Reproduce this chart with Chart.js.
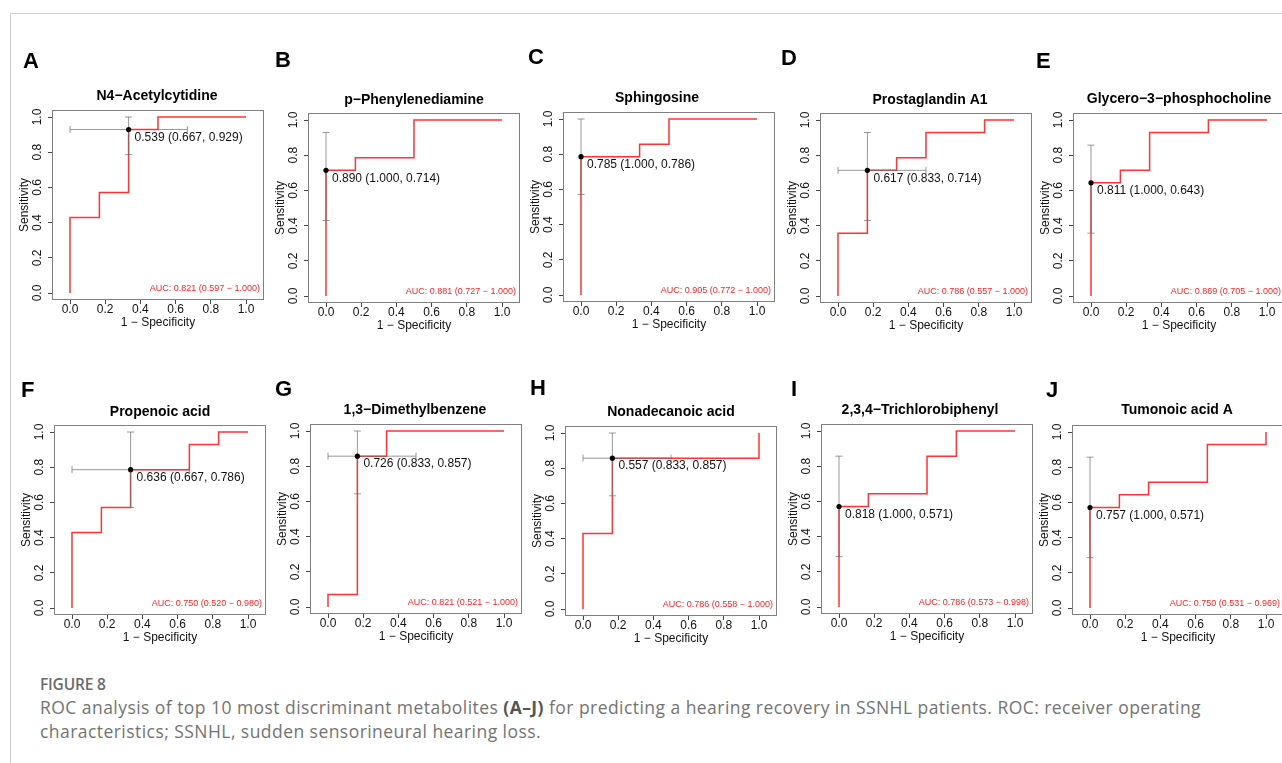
<!DOCTYPE html>
<html><head><meta charset="utf-8">
<script src="https://cdn.jsdelivr.net/npm/chart.js@4.4.1/dist/chart.umd.min.js"></script>
<style>
html,body{margin:0;padding:0;background:#fff;}
body{width:1282px;height:763px;overflow:hidden;position:relative;}
#frame{position:absolute;left:10px;top:13px;width:1300px;height:800px;border-top:1px solid #cfcfcf;border-left:1px solid #cfcfcf;}
canvas{position:absolute;}
#capTitle{position:absolute;left:40px;top:673px;font-family:'Open Sans',sans-serif;font-size:15.5px;font-weight:600;color:#6b6b6b;line-height:22px;letter-spacing:-0.2px;}
#capText{position:absolute;left:40px;top:696px;font-family:'Open Sans',sans-serif;font-size:17.5px;letter-spacing:0.45px;color:#737373;line-height:23.5px;white-space:nowrap;}
#capText b{color:#555;font-weight:700;}
</style></head>
<body>
<div id="frame"></div>
<div id="capTitle">FIGURE 8</div>
<div id="capText">ROC analysis of top 10 most discriminant metabolites <b>(A–J)</b> for predicting a hearing recovery in SSNHL patients. ROC: receiver operating<br>characteristics; SSNHL, sudden sensorineural hearing loss.</div>
<script>
// ---------------- data ----------------
const panelLetters = ['A','B','C','D','E','F','G','H','I','J'];
const metabolites = ['N4\u2212Acetylcytidine','p\u2212Phenylenediamine','Sphingosine','Prostaglandin A1','Glycero\u22123\u2212phosphocholine',
  'Propenoic acid','1,3\u2212Dimethylbenzene','Nonadecanoic acid','2,3,4\u2212Trichlorobiphenyl','Tumonoic acid A'];
// ROC curve vertices: 1 - specificity (x) and sensitivity (y)
const rocFpr = [
  [0,0,0.167,0.167,0.333,0.333,0.5,0.5,1],
  [0,0,0.167,0.167,0.5,0.5,1],
  [0,0,0.333,0.333,0.5,0.5,1],
  [0,0,0.167,0.167,0.333,0.333,0.5,0.5,0.833,0.833,1],
  [0,0,0.167,0.167,0.333,0.333,0.667,0.667,1],
  [0,0,0.167,0.167,0.333,0.333,0.667,0.667,0.833,0.833,1],
  [0,0,0.167,0.167,0.333,0.333,1],
  [0,0,0.167,0.167,1,1],
  [0,0,0.167,0.167,0.5,0.5,0.667,0.667,1],
  [0,0,0.167,0.167,0.333,0.333,0.667,0.667,1,1]
];
const rocTpr = [
  [0,0.429,0.429,0.571,0.571,0.929,0.929,1,1],
  [0,0.714,0.714,0.786,0.786,1,1],
  [0,0.786,0.786,0.857,0.857,1,1],
  [0,0.357,0.357,0.714,0.714,0.786,0.786,0.929,0.929,1,1],
  [0,0.643,0.643,0.714,0.714,0.929,0.929,1,1],
  [0,0.429,0.429,0.571,0.571,0.786,0.786,0.929,0.929,1,1],
  [0,0.071,0.071,0.857,0.857,1,1],
  [0,0.429,0.429,0.857,0.857,1],
  [0,0.571,0.571,0.643,0.643,0.857,0.857,1,1],
  [0,0.571,0.571,0.643,0.643,0.714,0.714,0.929,0.929,1]
];
const bestThreshold   = [0.539,0.890,0.785,0.617,0.811,0.636,0.726,0.557,0.818,0.757];
const bestSpecificity = [0.667,1.000,1.000,0.833,1.000,0.667,0.833,0.833,1.000,1.000];
const bestSensitivity = [0.929,0.714,0.786,0.714,0.643,0.786,0.857,0.857,0.571,0.571];
const specCiLow  = [0.333,1,1,0.5,1,0.333,0.5,0.5,1,1];
const specCiHigh = [1,1,1,1,1,1,1,1,1,1];
const sensCiLow  = [0.786,0.429,0.571,0.429,0.357,0.571,0.643,0.643,0.286,0.286];
const sensCiHigh = [1,0.929,1,0.929,0.857,1,1,1,0.857,0.857];
const aucValue  = [0.821,0.881,0.905,0.786,0.869,0.750,0.821,0.786,0.786,0.750];
const aucCiLow  = [0.597,0.727,0.772,0.557,0.705,0.520,0.521,0.558,0.573,0.531];
const aucCiHigh = [1.000,1.000,1.000,1.000,1.000,0.980,1.000,1.000,0.998,0.969];
const axisTicks  = [0,0.2,0.4,0.6,0.8,1.0];
const tickLabels = ['0.0','0.2','0.4','0.6','0.8','1.0'];
const xAxisTitle = '1 \u2212 Specificity';
const yAxisTitle = 'Sensitivity';

// ---------------- layout (page pixels) ----------------
// x0: pixel of x=0, y1: pixel of y=1, tx/ty: title centre, lx/ly: letter left / centre
const layoutPanels = [
  {x0:70,  y1:117, tx:157,  ty:96,  lx:23,   ly:61},
  {x0:326, y1:120, tx:414,  ty:100, lx:275,  ly:60},
  {x0:581, y1:119, tx:657,  ty:98,  lx:528,  ly:57},
  {x0:838, y1:120, tx:930,  ty:100, lx:781,  ly:58},
  {x0:1091,y1:120, tx:1179, ty:99,  lx:1036, ly:61},
  {x0:72,  y1:432, tx:160,  ty:412, lx:21,   ly:390},
  {x0:328, y1:431, tx:415,  ty:410, lx:275,  ly:389},
  {x0:583, y1:433, tx:671,  ty:412, lx:530,  ly:388},
  {x0:839, y1:431, tx:920,  ty:410, lx:791,  ly:389},
  {x0:1090,y1:432, tx:1177, ty:410, lx:1046, ly:390}
];
const UNIT = 176, BOX_W = 212, BOX_H = 190, ML = 50, MT = 75, MR = 14, MB = 40;
const Y_AXIS_W = 35, X_AXIS_H = 30;
const FONT = "'Liberation Sans', Arial, Helvetica, sans-serif";

const panelPlugin = {
  id: 'panelDecor',
  beforeDatasetsDraw(chart, args, opts) {
    const {ctx, chartArea: a} = chart;
    ctx.save();
    ctx.strokeStyle = '#808080';
    ctx.lineWidth = 1;
    ctx.strokeRect(Math.round(a.left) + 0.5, Math.round(a.top) + 0.5, Math.round(a.right - a.left) - 1, Math.round(a.bottom - a.top) - 1);
    ctx.restore();
  },
  afterDatasetsDraw(chart, args, opts) {
    const {ctx, chartArea: a, scales: {x, y}} = chart;
    const i = opts.index;
    ctx.save();
    const px = x.getPixelForValue(1 - bestSpecificity[i]);
    const py = y.getPixelForValue(bestSensitivity[i]);
    ctx.fillStyle = '#111';
    ctx.font = '12px ' + FONT;
    ctx.textAlign = 'left';
    ctx.textBaseline = 'middle';
    ctx.fillText(bestThreshold[i].toFixed(3) + ' (' + bestSpecificity[i].toFixed(3) + ', ' + bestSensitivity[i].toFixed(3) + ')', px + 6, py + 8);
    ctx.fillStyle = '#ff2020';
    ctx.font = '9px ' + FONT;
    ctx.textAlign = 'right';
    ctx.fillText('AUC: ' + aucValue[i].toFixed(3) + ' (' + aucCiLow[i].toFixed(3) + ' \u2212 ' + aucCiHigh[i].toFixed(3) + ')', a.right - 4, a.bottom - 11);
    ctx.restore();
  },
  afterDraw(chart, args, opts) {
    const {ctx} = chart;
    const i = opts.index, L = layoutPanels[i];
    ctx.save();
    ctx.fillStyle = '#000';
    ctx.textBaseline = 'middle';
    ctx.textAlign = 'center';
    ctx.font = 'bold 14px ' + FONT;
    ctx.fillText(metabolites[i], L.tx - opts.left, L.ty - opts.top);
    ctx.textAlign = 'left';
    ctx.font = 'bold 22px ' + FONT;
    ctx.fillText(panelLetters[i], L.lx - opts.left, L.ly - opts.top + 1);
    ctx.restore();
  }
};

function makePanel(i) {
  const L = layoutPanels[i];
  const boxLeft = L.x0 - 18, boxTop = L.y1 - 7;
  const cl = boxLeft - ML, ct = boxTop - MT;
  const cw = ML + BOX_W + MR, ch = MT + BOX_H + MB;
  const canvas = document.createElement('canvas');
  canvas.width = cw; canvas.height = ch;
  canvas.style.left = cl + 'px'; canvas.style.top = ct + 'px';
  canvas.style.width = cw + 'px'; canvas.style.height = ch + 'px';
  document.body.appendChild(canvas);

  const xmin = -18 / UNIT, xmax = xmin + BOX_W / UNIT;
  const ymin = -7 / UNIT, ymax = ymin + BOX_H / UNIT;
  const bx = 1 - bestSpecificity[i], by = bestSensitivity[i];
  const barColor = 'rgba(110,110,110,0.7)';
  const datasets = [
    {data: [{x: bx, y: by}], showLine: false, pointRadius: 2.6, pointBackgroundColor: '#000', pointBorderColor: '#000', pointBorderWidth: 0},
    {data: [{x: bx, y: sensCiLow[i]}, {x: bx, y: sensCiHigh[i]}], showLine: true, borderColor: barColor, borderWidth: 1,
     pointStyle: 'line', pointRadius: 3.5, pointBorderColor: barColor, pointBorderWidth: 1, pointRotation: 0}
  ];
  if (specCiLow[i] < specCiHigh[i]) {
    datasets.push({data: [{x: 1 - specCiHigh[i], y: by}, {x: 1 - specCiLow[i], y: by}], showLine: true, borderColor: barColor, borderWidth: 1,
     pointStyle: 'line', pointRadius: 3.5, pointBorderColor: barColor, pointBorderWidth: 1, pointRotation: 90});
  }
  datasets.push({data: rocFpr[i].map((v, k) => ({x: v, y: rocTpr[i][k]})), showLine: true, borderColor: '#ff3333', borderWidth: 1.5, pointRadius: 0, tension: 0});

  const tickFont = {family: FONT, size: 12};
  new Chart(canvas, {
    type: 'scatter',
    data: {datasets},
    options: {
      responsive: false, animation: false, events: [], devicePixelRatio: 1,
      layout: {padding: {left: ML - Y_AXIS_W, top: MT, right: MR, bottom: MB - X_AXIS_H}},
      plugins: {legend: {display: false}, tooltip: {enabled: false}, title: {display: false},
        panelDecor: {index: i, left: cl, top: ct}},
      scales: {
        x: {type: 'linear', min: xmin, max: xmax,
          afterBuildTicks: s => { s.ticks = axisTicks.map(v => ({value: v})); },
          afterFit: s => { s.height = X_AXIS_H; },
          ticks: {callback: (v, k) => tickLabels[k], font: tickFont, color: '#111', padding: -2, maxRotation: 0, minRotation: 0, autoSkip: false},
          grid: {drawOnChartArea: false, drawTicks: true, tickLength: 4, color: '#444'},
          border: {display: false},
          title: {display: true, text: xAxisTitle, font: tickFont, color: '#111', padding: 0}},
        y: {type: 'linear', min: ymin, max: ymax,
          afterBuildTicks: s => { s.ticks = axisTicks.map(v => ({value: v})); },
          afterFit: s => { s.width = Y_AXIS_W; },
          ticks: {callback: (v, k) => tickLabels[k], font: tickFont, color: '#111', padding: 2, minRotation: 90, maxRotation: 90, crossAlign: 'center', autoSkip: false},
          grid: {drawOnChartArea: false, drawTicks: true, tickLength: 4, color: '#444'},
          border: {display: false},
          title: {display: true, text: yAxisTitle, font: tickFont, color: '#111', padding: 0}}
      }
    },
    plugins: [panelPlugin]
  });
}
for (let i = 0; i < 10; i++) makePanel(i);
</script>
</body></html>
